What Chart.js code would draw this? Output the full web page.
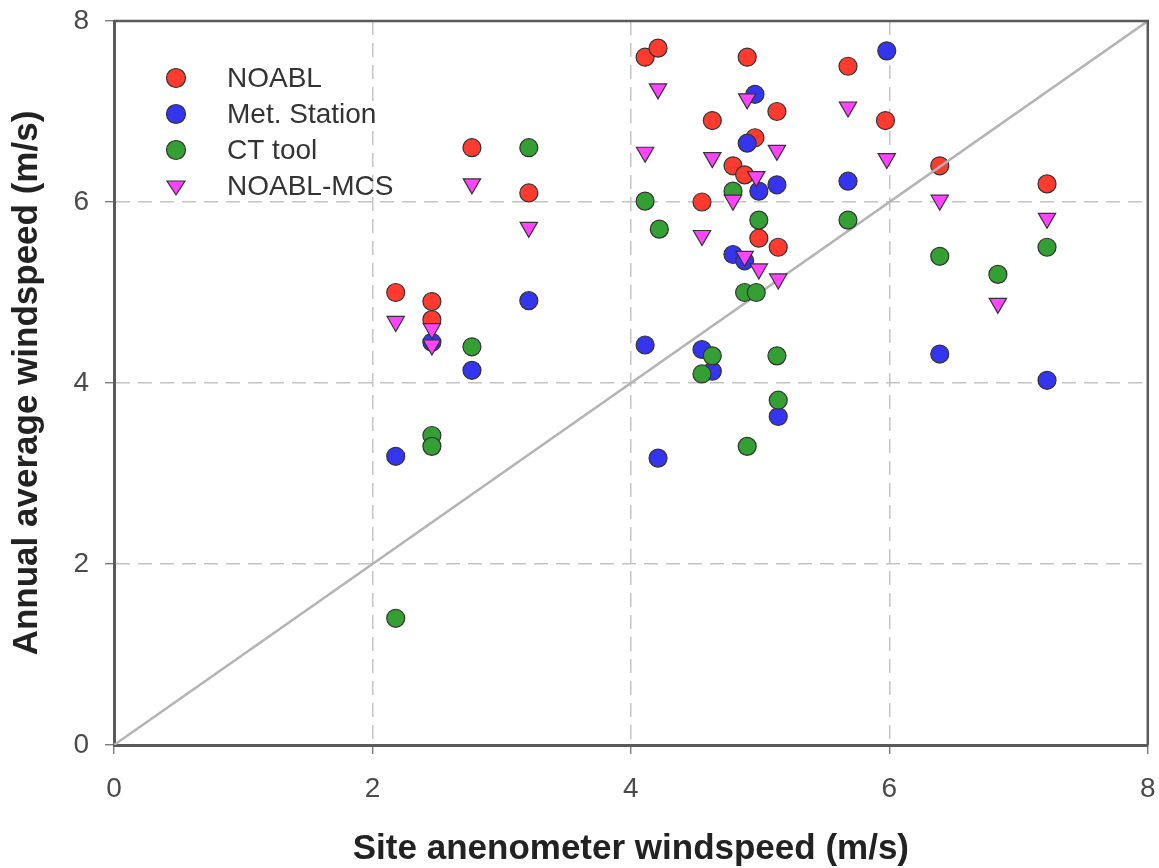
<!DOCTYPE html>
<html>
<head>
  <meta charset="utf-8">
  <title>Annual average windspeed vs site anemometer</title>
  <script src="https://cdn.jsdelivr.net/npm/chart.js@4.4.0/dist/chart.umd.min.js"></script>
  <style>
    body {
      margin: 0;
      background: #ffffff;
    }
    .wrap {
      width: 1159px;
      height: 868px;
    }
  </style>
</head>
<body>
  <div class="wrap">
    <canvas id="chart" width="1159" height="868"></canvas>
  </div>

  <script>
    // data: [site anemometer, predicted]
    const noabl = [
      [2.18, 5.0], [2.46, 4.9], [2.46, 4.7], [2.77, 6.6], [3.21, 6.1],
      [4.11, 7.6], [4.21, 7.7], [4.90, 7.6], [5.68, 7.5], [5.13, 7.0],
      [4.63, 6.9], [5.97, 6.9], [4.96, 6.71], [4.79, 6.4], [4.88, 6.3],
      [4.55, 6.0], [4.99, 5.6], [5.14, 5.5], [6.39, 6.4], [7.22, 6.2]
    ];
    const metStation = [
      [2.18, 3.19], [2.46, 4.45], [2.77, 4.14], [3.21, 4.91], [4.11, 4.42],
      [4.21, 3.17], [4.55, 4.37], [4.63, 4.13], [4.79, 5.42], [4.88, 5.35],
      [4.90, 6.65], [4.96, 7.19], [4.99, 6.12], [5.13, 6.19], [5.14, 3.63],
      [5.68, 6.23], [5.98, 7.67], [6.39, 4.32], [7.22, 4.03]
    ];
    const ctTool = [
      [2.18, 1.4], [2.46, 3.42], [2.46, 3.3], [2.77, 4.4], [3.21, 6.6],
      [4.11, 6.01], [4.22, 5.7], [4.55, 4.1], [4.63, 4.3], [4.79, 6.12],
      [4.88, 5.0], [4.90, 3.3], [4.97, 5.0], [4.99, 5.8], [5.13, 4.3],
      [5.14, 3.81], [5.68, 5.8], [6.39, 5.4], [6.84, 5.2], [7.22, 5.5]
    ];
    const noablMcs = [
      [2.18, 4.68], [2.46, 4.6], [2.46, 4.42], [2.77, 6.2], [3.21, 5.72],
      [4.11, 6.55], [4.21, 7.25], [4.55, 5.63], [4.63, 6.49], [4.79, 6.02],
      [4.88, 5.4], [4.90, 7.14], [4.97, 6.28], [4.99, 5.26], [5.13, 6.57],
      [5.14, 5.15], [5.68, 7.05], [5.98, 6.48], [6.39, 6.02], [6.84, 4.88],
      [7.22, 5.82]
    ];
    const axisMin = 0;
    const axisMax = 8;
    const tickStep = 2;

    const seriesNames = ['NOABL', 'Met. Station', 'CT tool', 'NOABL-MCS'];
    const seriesColors = ['#ff3b30', '#3535f0', '#34a034', '#ff44ff'];

    const fontFam = '"Liberation Sans", Arial, sans-serif';
    const toPts = arr => arr.map(p => ({x: p[0], y: p[1]}));

    // legend drawn inside the plot, top left
    const innerLegend = {
      id: 'innerLegend',
      afterDraw(chart) {
        const ctx = chart.ctx;
        ctx.save();
        ctx.font = '28px ' + fontFam;
        ctx.textBaseline = 'middle';
        ctx.strokeStyle = '#333';
        ctx.lineWidth = 1.2;
        for (let i = 0; i < seriesNames.length; i++) {
          const x = 176, y = 78 + i * 36;
          ctx.fillStyle = seriesColors[i];
          ctx.beginPath();
          if (i < 3) {
            ctx.arc(x, y, 9.5, 0, Math.PI * 2);
          } else {
            ctx.moveTo(x - 9, y - 5);
            ctx.lineTo(x + 9, y - 5);
            ctx.lineTo(x, y + 9);
            ctx.closePath();
          }
          ctx.fill();
          ctx.stroke();
          ctx.fillStyle = '#333';
          ctx.fillText(seriesNames[i], 227, y + 1);
        }
        ctx.restore();
      }
    };

    // top and right frame lines
    const frame = {
      id: 'frame',
      afterDatasetsDraw(chart) {
        const {ctx, chartArea: a} = chart;
        ctx.save();
        ctx.strokeStyle = '#5a5a5a';
        ctx.lineWidth = 2.5;
        ctx.beginPath();
        ctx.moveTo(a.left, a.top);
        ctx.lineTo(a.right, a.top);
        ctx.lineTo(a.right, a.bottom);
        ctx.stroke();
        ctx.restore();
      }
    };

    const gridColor = c => (c.tick && (c.tick.value === axisMin || c.tick.value === axisMax)) ? 'rgba(0,0,0,0)' : '#c4c4c4';

    const pointBase = {
      showLine: false,
      pointRadius: 9,
      pointHoverRadius: 9,
      pointBorderColor: '#333',
      pointBorderWidth: 1.2
    };

    new Chart(document.getElementById('chart'), {
      type: 'scatter',
      data: {
        datasets: [
          Object.assign({}, pointBase, {
            label: seriesNames[0], data: toPts(noabl),
            backgroundColor: seriesColors[0], order: 5
          }),
          {
            label: '1:1', type: 'line',
            data: [{x: axisMin, y: axisMin}, {x: axisMax, y: axisMax}],
            borderColor: '#b4b4b4', borderWidth: 2.5, pointRadius: 0,
            fill: false, order: 4
          },
          Object.assign({}, pointBase, {
            label: seriesNames[1], data: toPts(metStation),
            backgroundColor: seriesColors[1], order: 3
          }),
          Object.assign({}, pointBase, {
            label: seriesNames[2], data: toPts(ctTool),
            backgroundColor: seriesColors[2], order: 2
          }),
          Object.assign({}, pointBase, {
            label: seriesNames[3], data: toPts(noablMcs),
            backgroundColor: seriesColors[3], order: 1,
            pointStyle: 'triangle', pointRotation: 180, pointRadius: 10
          })
        ]
      },
      options: {
        responsive: false,
        animation: false,
        layout: {padding: {top: 21, right: 11, left: 0, bottom: 0}},
        plugins: {
          legend: {display: false},
          tooltip: {enabled: false}
        },
        scales: {
          x: {
            type: 'linear',
            min: axisMin, max: axisMax,
            afterFit(s) {
              s.height = 123;
              s.paddingLeft = 0;
              s.paddingRight = 0;
            },
            ticks: {
              stepSize: tickStep, padding: 18, color: '#4a4a4a',
              font: {size: 28, family: fontFam}
            },
            grid: {color: gridColor, lineWidth: 1.5, tickLength: 9, tickColor: '#666', tickWidth: 1.2},
            border: {display: true, color: '#5a5a5a', width: 3, dash: [14, 8]},
            title: {
              display: true,
              text: 'Site anenometer windspeed (m/s)',
              color: '#222',
              font: {size: 35, weight: 'bold', family: fontFam, lineHeight: 1},
              padding: {top: 1, bottom: 1}
            }
          },
          y: {
            type: 'linear',
            min: axisMin, max: axisMax,
            afterFit(s) {
              s.width = 114;
              s.paddingTop = 0;
              s.paddingBottom = 0;
            },
            ticks: {
              stepSize: tickStep, padding: 16, color: '#4a4a4a',
              font: {size: 28, family: fontFam}
            },
            grid: {color: gridColor, lineWidth: 1.5, tickLength: 9, tickColor: '#666', tickWidth: 1.2},
            border: {display: true, color: '#5a5a5a', width: 3, dash: [14, 8]},
            title: {
              display: true,
              text: 'Annual average windspeed (m/s)',
              color: '#222',
              font: {size: 35, weight: 'bold', family: fontFam, lineHeight: 1},
              padding: {top: 10, bottom: 10}
            }
          }
        }
      },
      plugins: [frame, innerLegend]
    });
  </script>
</body>
</html>
